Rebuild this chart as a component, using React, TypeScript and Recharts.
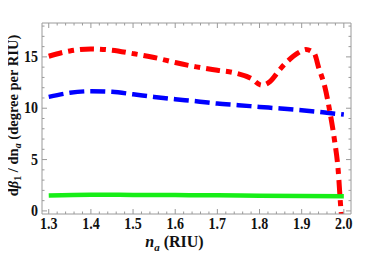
import React from 'react';
import { LineChart, Line, XAxis, YAxis, Label } from 'recharts';

// Red (dot-dashed) series
const redX = [1.3, 1.35, 1.4, 1.45, 1.5, 1.55, 1.6, 1.65, 1.7, 1.74, 1.78, 1.805, 1.825, 1.85, 1.88, 1.9, 1.91, 1.93, 1.94, 1.955, 1.967, 1.978, 1.986, 1.994, 1.998];
const redY = [15.06, 15.58, 15.78, 15.65, 15.32, 14.94, 14.45, 14.03, 13.7, 13.45, 12.9, 12.24, 12.6, 13.86, 15.06, 15.58, 15.72, 15.33, 14.0, 12.07, 9.63, 6.85, 4.25, -0.26, -1.5];

// Blue (dashed) series
const blueX = [1.3, 1.35, 1.4, 1.45, 1.5, 1.55, 1.6, 1.65, 1.7, 1.75, 1.8, 1.85, 1.9, 1.95, 2.0];
const blueY = [11.1, 11.5, 11.66, 11.6, 11.36, 11.1, 10.88, 10.68, 10.45, 10.3, 10.13, 9.97, 9.8, 9.6, 9.38];

// Green (solid) series
const greenX = [1.3, 1.4, 1.5, 1.6, 1.7, 1.8, 1.9, 2.0];
const greenY = [1.5, 1.58, 1.56, 1.54, 1.52, 1.48, 1.45, 1.42];

// Tick labels
const xMajorTicks = [1.3, 1.4, 1.5, 1.6, 1.7, 1.8, 1.9, 2.0];
const xMajorLabels = ['1.3', '1.4', '1.5', '1.6', '1.7', '1.8', '1.9', '2.0'];
const yMajorTicks = [0, 5, 10, 15];
const yMajorLabels = ['0', '5', '10', '15'];

const xAllTicks: number[] = [];
for (let i = 0; i <= 35; i++) xAllTicks.push(Math.round((1.3 + i * 0.02) * 1000) / 1000);
const yAllTicks: number[] = [];
for (let i = 0; i <= 18; i++) yAllTicks.push(i);

const redData = redX.map((x, i) => ({ x, y: redY[i] }));
const blueData = blueX.map((x, i) => ({ x, y: blueY[i] }));
const greenData = greenX.map((x, i) => ({ x, y: greenY[i] }));

const FONT = "'Liberation Serif', serif";
const FRAME = '#9a9a9a';
const textStyle = { fontFamily: FONT, fontWeight: 'bold' as const };

const xIdx = (v: number) => xMajorTicks.findIndex((t) => Math.abs(t - v) < 1e-6);
const yIdx = (v: number) => yMajorTicks.findIndex((t) => Math.abs(t - v) < 1e-6);

const XBottomTick = (props: any) => {
  const { x, y, payload } = props;
  const i = xIdx(payload.value);
  const major = i >= 0;
  return (
    <g>
      <line x1={x} y1={y} x2={x} y2={y - (major ? 5 : 2.5)} stroke={FRAME} strokeWidth={1} />
      {major && (
        <text
          transform={`translate(${x},${y + 15}) scale(1,1.2)`}
          textAnchor="middle"
          style={{ ...textStyle, fontSize: 14 }}
          fill="#111"
        >
          {xMajorLabels[i]}
        </text>
      )}
    </g>
  );
};

const XTopTick = (props: any) => {
  const { x, y, payload } = props;
  const major = xIdx(payload.value) >= 0;
  return <line x1={x} y1={y} x2={x} y2={y + (major ? 5 : 2.5)} stroke={FRAME} strokeWidth={1} />;
};

const YLeftTick = (props: any) => {
  const { x, y, payload } = props;
  const i = yIdx(payload.value);
  const major = i >= 0;
  return (
    <g>
      <line x1={x} y1={y} x2={x + (major ? 5 : 2.5)} y2={y} stroke={FRAME} strokeWidth={1} />
      {major && (
        <text
          transform={`translate(${x - 4},${y + 5}) scale(1,1.2)`}
          textAnchor="end"
          style={{ ...textStyle, fontSize: 14 }}
          fill="#111"
        >
          {yMajorLabels[i]}
        </text>
      )}
    </g>
  );
};

const YRightTick = (props: any) => {
  const { x, y, payload } = props;
  const major = yIdx(payload.value) >= 0;
  return <line x1={x} y1={y} x2={x - (major ? 5 : 2.5)} y2={y} stroke={FRAME} strokeWidth={1} />;
};

const YAxisTitle = (props: any) => {
  const vb = props.viewBox || { x: 0, y: 15, width: 34, height: 191 };
  const cx = 10;
  const cy = vb.y + vb.height / 2 - 3;
  return (
    <text
      transform={`translate(${cx},${cy}) rotate(-90)`}
      textAnchor="middle"
      style={{ ...textStyle, fontSize: 14.5 }}
      fill="#111"
    >
      d<tspan fontStyle="italic">β</tspan>
      <tspan fontSize={10} dy={3}>1</tspan>
      <tspan dy={-3}> / dn</tspan>
      <tspan fontSize={10} fontStyle="italic" dy={3}>a</tspan>
      <tspan dy={-3}> (degree per RIU)</tspan>
    </text>
  );
};

const XAxisTitle = (props: any) => {
  const vb = props.viewBox || { x: 34, y: 206, width: 309, height: 39 };
  const cx = vb.x + vb.width / 2 - 22;
  const cy = vb.y + 33;
  return (
    <text x={cx} y={cy} textAnchor="middle" style={{ ...textStyle, fontSize: 16 }} fill="#111">
      <tspan fontStyle="italic">n</tspan>
      <tspan fontSize={11} fontStyle="italic" dy={4}>a</tspan>
      <tspan dy={-4}> (RIU)</tspan>
    </text>
  );
};

export default function App() {
  return (
    <LineChart width={360} height={245} margin={{ top: 0, right: 0, bottom: 0, left: 0 }}>
      <XAxis
        dataKey="x"
        type="number"
        domain={[1.284, 2.017]}
        allowDataOverflow
        ticks={xAllTicks}
        interval={0}
        tick={<XBottomTick />}
        tickLine={false}
        tickSize={0}
        tickMargin={0}
        axisLine={{ stroke: FRAME }}
        height={39}
        label={<Label content={<XAxisTitle />} />}
      />
      <XAxis
        xAxisId="top"
        orientation="top"
        dataKey="x"
        type="number"
        domain={[1.284, 2.017]}
        allowDataOverflow
        ticks={xAllTicks}
        interval={0}
        tick={<XTopTick />}
        tickLine={false}
        tickSize={0}
        tickMargin={0}
        axisLine={{ stroke: FRAME }}
        height={15}
      />
      <YAxis
        type="number"
        domain={[-0.3, 18.3]}
        allowDataOverflow
        ticks={yAllTicks}
        interval={0}
        tick={<YLeftTick />}
        tickLine={false}
        tickSize={0}
        tickMargin={0}
        axisLine={{ stroke: FRAME }}
        width={34}
        label={<Label content={<YAxisTitle />} />}
      />
      <YAxis
        yAxisId="right"
        orientation="right"
        type="number"
        domain={[-0.3, 18.3]}
        allowDataOverflow
        ticks={yAllTicks}
        interval={0}
        tick={<YRightTick />}
        tickLine={false}
        tickSize={0}
        tickMargin={0}
        axisLine={{ stroke: FRAME }}
        width={17}
      />
      <Line
        data={greenData}
        dataKey="y"
        type="monotone"
        stroke="#17ee17"
        strokeWidth={4.5}
        dot={false}
        activeDot={false}
        isAnimationActive={false}
      />
      <Line
        data={blueData}
        dataKey="y"
        type="monotone"
        stroke="#0000ff"
        strokeWidth={4.5}
        strokeDasharray="15 6"
        dot={false}
        activeDot={false}
        isAnimationActive={false}
      />
      <Line
        data={redData}
        dataKey="y"
        type="monotone"
        stroke="#ff0000"
        strokeWidth={5}
        strokeDasharray="14 6 6 6"
        dot={false}
        activeDot={false}
        isAnimationActive={false}
      />
    </LineChart>
  );
}
